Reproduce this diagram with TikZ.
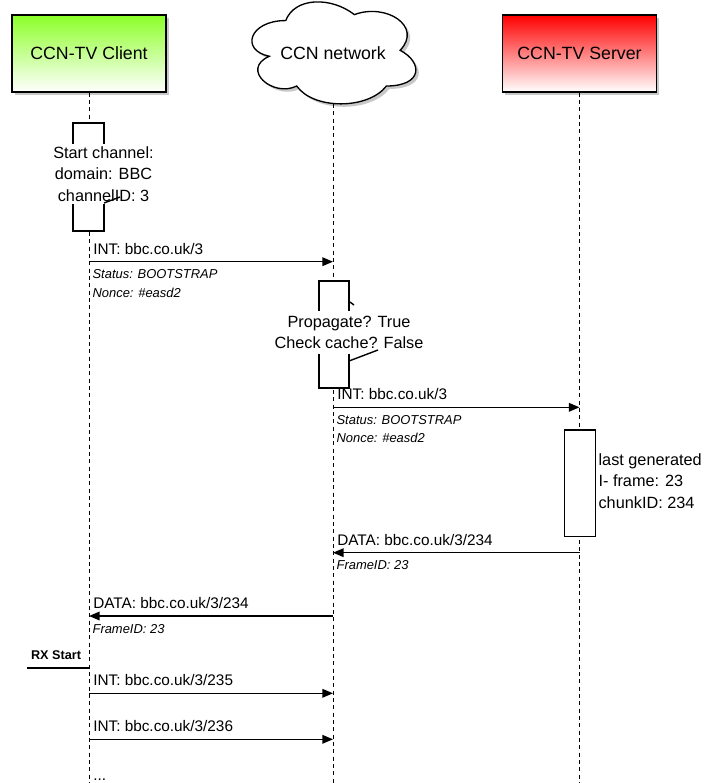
\documentclass[tikz,border=0pt]{standalone}
\usepackage{fontspec}
\setmainfont{Liberation Sans}
\usetikzlibrary{arrows.meta, shadows}

\definecolor{clientgreen}{RGB}{140,255,40}
\definecolor{serverred}{RGB}{255,0,0}
\definecolor{shadowgray}{RGB}{200,200,200}

\tikzset{
    boxshadow/.style={drop shadow={shadow xshift=2.2pt, shadow yshift=-2.2pt, fill=shadowgray, opacity=1}},
    actor/.style={draw, line width=1pt, minimum width=115.5pt, minimum height=57.75pt,
        bottom color=white, boxshadow, font=\fontsize{13.3}{16}\selectfont},
    lifeline/.style={dash pattern=on 3pt off 2.5pt, line width=0.75pt},
    msgline/.style={line width=1.05pt},
    msglabel/.style={anchor=base west, inner sep=0pt, font=\fontsize{11.5}{14}\selectfont},
    msgnote/.style={anchor=base west, inner sep=0pt, font=\fontsize{9.7}{12}\selectfont\itshape},
    actbox/.style={draw, fill=white, line width=1pt, inner sep=0pt},
    looptext/.style={align=center, fill=white, inner xsep=1pt, inner ysep=2pt,
        font=\fontsize{12.2}{16}\selectfont},
}

\begin{document}
\begin{tikzpicture}[x=0.75pt, y=-0.75pt, >={Triangle[length=8pt, width=6.5pt]}]

\useasboundingbox (0,0) rectangle (706,783);

% Message arrow between two lifelines, label above its left end
% Usage: \sendmsg{left lifeline}{right lifeline}{arrow}{y}{label}{name}
\newcommand{\sendmsg}[6]{
    \draw[msgline, #3] (#1 |- 0,#4) -- (#2 |- 0,#4);
    \node[msglabel, xshift=3pt] (#6) at (#1 |- 0,{#4-7.5}) {#5};
}
% Italic notes below a message, one line each
% Usage: \addnote{lifeline}{y of message}{lines}{name}
\newcommand{\addnote}[4]{
    \foreach \ln [count=\i] in {#3} {
        \node[msgnote, xshift=2.5pt] (#4-\i) at (#1 |- 0,{#2+17+(\i-1)*18.5}) {\ln};
    }
}

% --- Participants ---
\node[actor, top color=clientgreen] (client) at (89,53.5) {CCN-TV Client};
\node[actor, top color=serverred] (server) at (579.5,53.5) {CCN-TV Server};

% cloud outline, in units of its own cell (183 x 119)
\begin{scope}[shift={(240,-9.2)}, x=137.25pt, y=-89.25pt]
    \path[draw, fill=white, line width=1pt, boxshadow]
        (0.25,0.25) .. controls (0.05,0.25) and (0,0.5) .. (0.16,0.55)
        .. controls (0,0.66) and (0.18,0.9) .. (0.31,0.8)
        .. controls (0.4,1) and (0.7,1) .. (0.8,0.8)
        .. controls (1,0.8) and (1,0.6) .. (0.875,0.5)
        .. controls (1,0.3) and (0.8,0.1) .. (0.625,0.2)
        .. controls (0.5,0.05) and (0.3,0.05) .. (0.25,0.25) -- cycle;
\end{scope}
\node[font=\fontsize{13.3}{16}\selectfont] (net) at (333,53) {CCN network};

% --- Lifelines ---
\coordinate (bottom) at (0,783);
\draw[lifeline] (client.south) -- (client |- bottom);
\draw[lifeline] (net |- 0,104) -- (net |- bottom);
\draw[lifeline] (server.south) -- (server |- bottom);

% --- Client: start channel ---
\node[actbox, minimum width=23.25pt, minimum height=81pt] (startloop) at (88.5,177) {};
\node[looptext] (starttxt) at (103.5,174) {Start channel:\\domain: BBC\\channelID: 3};
\draw[msgline] (104,203) -- (120,197);

\sendmsg{client}{net}{->}{261.7}{INT: bbc.co.uk/3}{int1}
\addnote{client}{261.7}{Status: BOOTSTRAP, Nonce: \#easd2}{int1note}

% --- Network: forwarding decision ---
\node[actbox, minimum width=22.5pt, minimum height=80.25pt] (fwdloop) at (334,334.5) {};
\node[looptext, inner ysep=4pt] (fwdtxt) at (349,332.5) {Propagate? True\\Check cache? False};
\draw[msgline] (350,302) -- (354,305);
\draw[msgline] (349,361) -- (378,350);

\sendmsg{net}{server}{->}{407.3}{INT: bbc.co.uk/3}{int2}
\addnote{net}{407.3}{Status: BOOTSTRAP, Nonce: \#easd2}{int2note}

% --- Server: frame lookup ---
\node[actbox, minimum width=23.5pt, minimum height=80pt] (lookup) at (580,483.4) {};
\node[align=left, anchor=west, inner sep=1.5pt, font=\fontsize{12.2}{16}\selectfont]
    (lookuptxt) at (lookup.east |- 0,481) {last generated\\I- frame: 23\\chunkID: 234};

% --- Data back to the client ---
\sendmsg{net}{server}{<-}{552.7}{DATA: bbc.co.uk/3/234}{data1}
\addnote{net}{552.7}{FrameID: 23}{data1note}

\sendmsg{client}{net}{<-}{616}{DATA: bbc.co.uk/3/234}{data2}
\addnote{client}{616}{FrameID: 23}{data2note}

% --- Playback ---
\node[font=\fontsize{9.5}{11}\selectfont\bfseries] (rxstart) at (56,655) {RX Start};
\coordinate (rxtail) at (27,668);
\draw[msgline] (rxtail) -- (client |- rxtail);

\sendmsg{client}{net}{->}{693.3}{INT: bbc.co.uk/3/235}{int3}
\sendmsg{client}{net}{->}{739.3}{INT: bbc.co.uk/3/236}{int4}

\node[msglabel, xshift=3pt] (more) at (client |- 0,780) {...};

\end{tikzpicture}
\end{document}
